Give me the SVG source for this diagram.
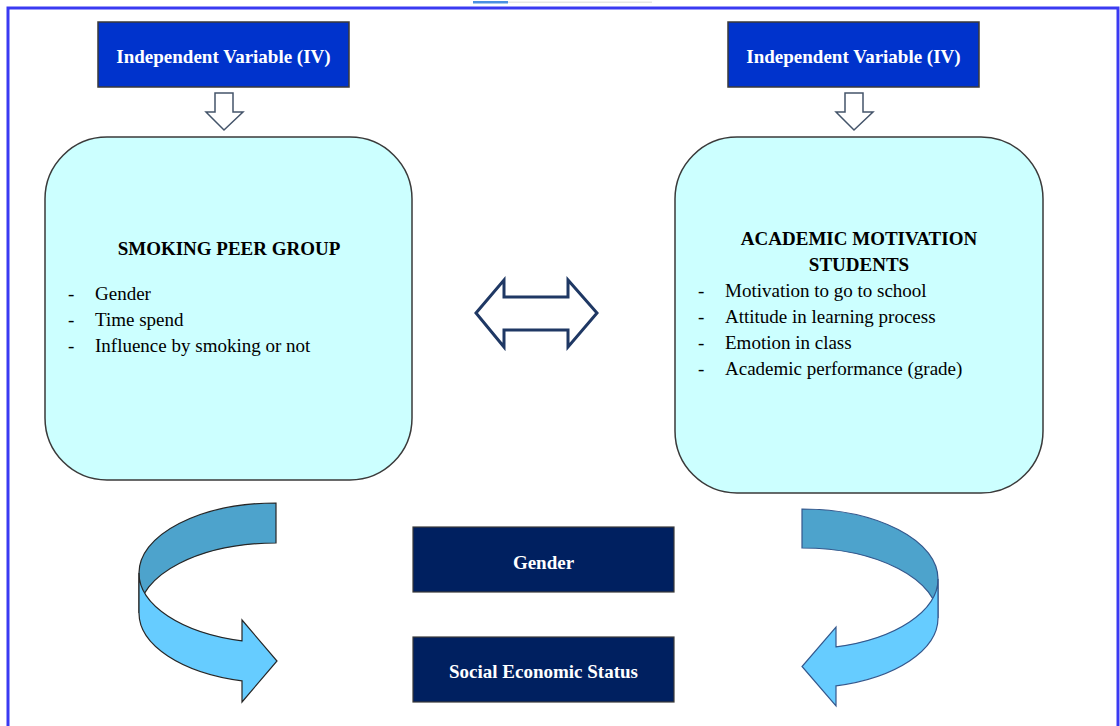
<svg xmlns="http://www.w3.org/2000/svg" width="1120" height="726" viewBox="0 0 1120 726">
<style>
.iv{fill:#0033cc;stroke:#3a3a3a;stroke-width:1.5}
.dark{fill:#002060;stroke:#3a3a3a;stroke-width:1.2}
.rbox{fill:#ccffff;stroke:#3a3a3a;stroke-width:1.5}
.wt{font-family:"Liberation Serif","Times New Roman",serif;font-weight:bold;font-size:19px;fill:#ffffff;text-anchor:middle}
.hd{font-family:"Liberation Serif","Times New Roman",serif;font-weight:bold;font-size:19px;fill:#000000;text-anchor:middle}
.bl{font-family:"Liberation Serif","Times New Roman",serif;font-size:19px;fill:#000000}
.down{fill:#ffffff;stroke:#44546a;stroke-width:1.5;stroke-linejoin:miter}
.back{fill:#4da3cc}
.front{fill:#66ccff}
</style>
<rect x="0" y="0" width="1120" height="726" fill="#ffffff"/>
<rect x="473" y="1" width="35" height="2.5" fill="#4a90e2"/>
<rect x="508" y="1.5" width="144" height="1.5" fill="#e6e6e6"/>
<rect x="8" y="8" width="1110" height="740" fill="none" stroke="#3a3af2" stroke-width="3"/>

<g id="iv-left">
<rect class="iv" x="98" y="22" width="251" height="65"/>
<text class="wt" x="223.5" y="63">Independent Variable (IV)</text>
</g>
<g id="iv-right">
<rect class="iv" x="728" y="22" width="251" height="65"/>
<text class="wt" x="853.5" y="63">Independent Variable (IV)</text>
</g>

<g id="smoking-peer-group">
<rect class="rbox" x="45" y="137" width="367" height="343" rx="62" ry="62"/>
<text class="hd" x="229" y="255">SMOKING PEER GROUP</text>
<text class="bl" x="68" y="300">-</text><text class="bl" x="95" y="300">Gender</text>
<text class="bl" x="68" y="326">-</text><text class="bl" x="95" y="326">Time spend</text>
<text class="bl" x="68" y="352">-</text><text class="bl" x="95" y="352">Influence by smoking or not</text>
</g>

<g id="academic-motivation">
<rect class="rbox" x="675" y="137" width="368" height="356" rx="62" ry="62"/>
<text class="hd" x="859" y="245">ACADEMIC MOTIVATION</text>
<text class="hd" x="859" y="271">STUDENTS</text>
<text class="bl" x="698" y="297">-</text><text class="bl" x="725" y="297">Motivation to go to school</text>
<text class="bl" x="698" y="323">-</text><text class="bl" x="725" y="323">Attitude in learning process</text>
<text class="bl" x="698" y="349">-</text><text class="bl" x="725" y="349">Emotion in class</text>
<text class="bl" x="698" y="375">-</text><text class="bl" x="725" y="375">Academic performance (grade)</text>
</g>

<g id="gender">
<rect class="dark" x="413" y="527" width="261" height="65"/>
<text class="wt" x="543.5" y="569">Gender</text>
</g>
<g id="ses">
<rect class="dark" x="413" y="637" width="261" height="65"/>
<text class="wt" x="543.5" y="678">Social Economic Status</text>
</g>

<g id="connectors">
<polygon class="down" points="215,93 233,93 233,112 243,112 224,130 206,112 215,112"/>
<polygon class="down" points="845,93 863,93 863,112 873,112 854,130 836,112 845,112"/>
<polygon points="476,313 504,280 504,297 568,297 568,280 597,313 568,347 568,330 504,330 504,347" fill="#ffffff" stroke="#1f3864" stroke-width="3" stroke-linejoin="miter"/>
<g stroke="#262626" stroke-width="1.2" stroke-linejoin="miter">
<path class="back" d="M276,503 A137,70 0 0 0 139,573 L139,613 A137,70 0 0 1 276,543 Z"/>
<path class="front" d="M139,573 A137,70 0 0 0 242,640.8 L242,620 L277,661 L242,702 L242,680.8 A137,70 0 0 1 139,613 Z"/>
</g>
<g stroke="#34578c" stroke-width="1.2" stroke-linejoin="miter">
<path class="back" d="M802,509 A136,70 0 0 1 938,579 L938,618 A136,70 0 0 0 802,548 Z"/>
<path class="front" d="M938,579 A136,70 0 0 1 836,646.8 L836,627 L802,666.5 L836,706 L836,685.8 A136,70 0 0 0 938,618 Z"/>
</g>
</g>
</svg>
